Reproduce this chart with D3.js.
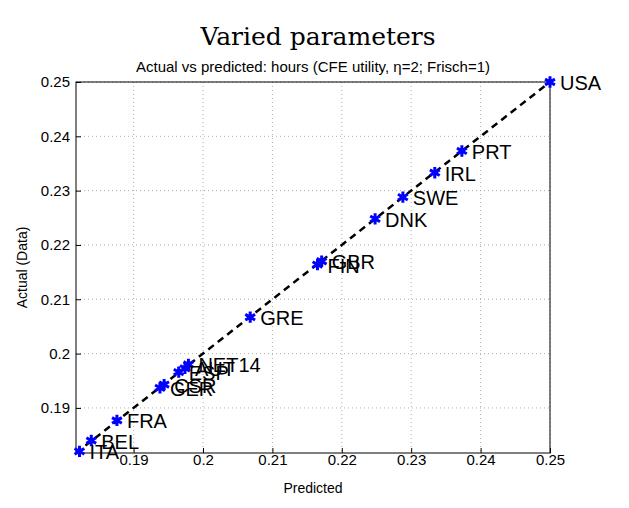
<!DOCTYPE html>
<html><head><meta charset="utf-8">
<script src="https://cdn.jsdelivr.net/npm/d3@7"></script>
<style>body{margin:0;background:#fff}text{font-family:"Liberation Sans",Arial,sans-serif}</style>
</head><body><div id="chart"></div>
<script>
const countries = ['USA','PRT','IRL','SWE','DNK','GBR','FIN','GRE','NET14','AUT','ESP','CSR','GER','FRA','BEL','ITA'];
const predicted = [0.25,0.2373,0.2334,0.2288,0.2248,0.2171,0.2165,0.2068,0.1979,0.1974,0.1965,0.1944,0.1938,0.1876,0.1839,0.1822];
const actual    = [0.25,0.2373,0.2333,0.2288,0.2248,0.2170,0.2164,0.2067,0.1980,0.1973,0.1966,0.1943,0.1937,0.1877,0.1840,0.1820];
const xTicks = [0.19,0.2,0.21,0.22,0.23,0.24,0.25];
const yTicks = [0.19,0.2,0.21,0.22,0.23,0.24,0.25];

const margin = {top: 82, right: 79, bottom: 55, left: 76};
const width = 629 - margin.left - margin.right;
const height = 508 - margin.top - margin.bottom;

const root = d3.select('#chart').append('svg').attr('width', 629).attr('height', 508);
const svg = root.append('g').attr('transform', 'translate(' + margin.left + ',' + margin.top + ')');

const xScale = d3.scaleLinear().domain([0.1817, 0.25]).range([0, width]);
const yScale = d3.scaleLinear().domain([0.1817, 0.25]).range([height, 0]);

// grid
svg.selectAll('.gx').data(xTicks).join('line')
    .attr('x1', d => xScale(d)).attr('x2', d => xScale(d)).attr('y1', 0).attr('y2', height)
    .attr('stroke', '#999').attr('stroke-width', 0.8).attr('stroke-dasharray', '1,3');
svg.selectAll('.gy').data(yTicks).join('line')
    .attr('y1', d => yScale(d)).attr('y2', d => yScale(d)).attr('x1', 0).attr('x2', width)
    .attr('stroke', '#999').attr('stroke-width', 0.8).attr('stroke-dasharray', '1,3');

svg.append('rect').attr('width', width).attr('height', height).attr('fill', 'none').attr('stroke', '#000');

const fmt = d => String(+d.toFixed(2));
const xAxis = svg.append('g').attr('transform', 'translate(0,' + height + ')')
    .call(d3.axisBottom(xScale).tickValues(xTicks).tickFormat(fmt).tickSizeInner(-5).tickSizeOuter(0).tickPadding(3));
const yAxis = svg.append('g')
    .call(d3.axisLeft(yScale).tickValues(yTicks).tickFormat(fmt).tickSizeInner(-5).tickSizeOuter(0).tickPadding(6));
[xAxis, yAxis].forEach(a => {
    a.select('.domain').remove();
    a.selectAll('text').attr('font-size', 15).attr('fill', '#000').attr('font-family', '"Liberation Sans",Arial,sans-serif');
});
xAxis.selectAll('text').attr('dy', '0.6em');

// 45 degree line
svg.append('line')
    .attr('x1', xScale(0.1817)).attr('y1', yScale(0.1817))
    .attr('x2', xScale(0.25)).attr('y2', yScale(0.25))
    .attr('stroke', '#000').attr('stroke-width', 2.5).attr('stroke-dasharray', '7,5');

// asterisk markers
const star = d3.symbol().type(d3.symbolAsterisk).size(90);
svg.selectAll('.pt').data(countries).join('path')
    .attr('transform', (d, i) => 'translate(' + xScale(predicted[i]) + ',' + yScale(actual[i]) + ')')
    .attr('d', star).attr('stroke', '#0000ff').attr('stroke-width', 3).attr('fill', 'none');

svg.selectAll('.lbl').data(countries).join('text')
    .attr('x', (d, i) => xScale(predicted[i]) + 10)
    .attr('y', (d, i) => yScale(actual[i]) + 8)
    .attr('font-size', 20).text(d => d);

root.append('text').attr('x', 318).attr('y', 45).attr('text-anchor', 'middle')
    .attr('font-size', 25).style('font-family', '"DejaVu Serif","Liberation Serif",serif').text('Varied parameters');
root.append('text').attr('x', 313).attr('y', 72).attr('text-anchor', 'middle')
    .attr('font-size', 15).text('Actual vs predicted: hours (CFE utility, η=2; Frisch=1)');
root.append('text').attr('x', 313).attr('y', 493).attr('text-anchor', 'middle')
    .attr('font-size', 14).text('Predicted');
root.append('text').attr('transform', 'translate(27,' + (margin.top + height / 2) + ') rotate(-90)')
    .attr('text-anchor', 'middle').attr('font-size', 14).text('Actual (Data)');
</script></body></html>
